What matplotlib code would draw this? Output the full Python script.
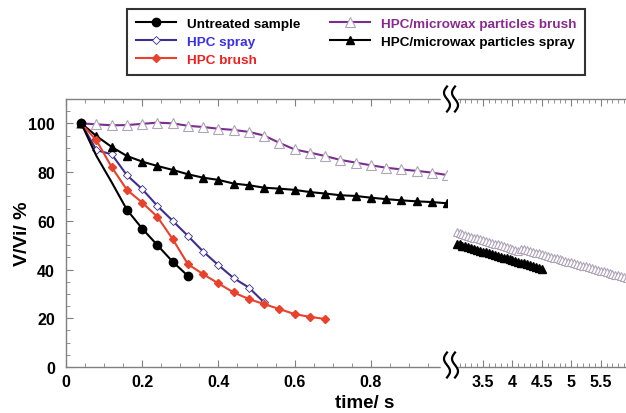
import numpy as np
import matplotlib
matplotlib.use('Agg')
import matplotlib.pyplot as plt
from matplotlib.lines import Line2D
from matplotlib.ticker import MultipleLocator, FuncFormatter

plt.rcParams['font.family'] = ['Liberation Sans', 'DejaVu Sans']
plt.rcParams['font.weight'] = 'bold'

# --- data ---
t_left = [0.04, 0.08, 0.12, 0.16, 0.20, 0.24, 0.28, 0.32, 0.36, 0.40, 0.44, 0.48, 0.52,
          0.56, 0.60, 0.64, 0.68, 0.72, 0.76, 0.80, 0.84, 0.88, 0.92, 0.96, 1.00]

untreated = [100, 86.6, 75.8, 64.5, 56.8, 50.0, 43.2, 37.4]
hpc_spray = [100, 89.0, 87.3, 78.7, 73.0, 66.1, 60.0, 53.8, 47.4, 41.8, 36.5, 32.6, 26.5]
hpc_brush = [100, 93.0, 82.0, 72.7, 67.5, 61.6, 52.5, 42.2, 38.1, 34.3, 30.6, 27.9, 25.8,
             23.8, 21.7, 20.6, 19.7]
wax_brush = [100, 99.6, 99.2, 99.3, 99.8, 100.3, 100.0, 99.0, 98.5, 97.8, 97.3, 96.5, 95.0,
             92.0, 89.3, 88.0, 86.6, 85.0, 83.9, 82.8, 81.8, 81.1, 80.5, 79.8, 78.8]
wax_spray = [100, 94.8, 90.3, 86.6, 84.3, 82.5, 80.9, 79.1, 77.7, 76.8, 75.3, 74.6, 73.6,
             73.2, 72.7, 71.8, 71.2, 70.5, 70.2, 69.5, 68.9, 68.4, 68.0, 67.7, 67.2]

# long-time part (right panel)
wax_brush_late = [55.3, 54.9, 54.6, 54.2, 53.9, 53.5, 53.1, 52.8, 52.4, 52.1, 51.7,
                  51.3, 51.0, 50.6, 50.3, 49.9, 49.5, 49.2, 48.8, 48.5, 48.1, 47.7,
                  48.6, 48.3, 47.9, 47.6, 47.3, 46.9, 46.6, 46.3, 45.9, 45.6,
                  45.3, 44.9, 44.6, 44.3, 43.9, 43.6, 43.3, 42.9, 42.6, 42.3,
                  41.9, 41.6, 41.3, 40.9, 40.6, 40.3, 39.9, 39.6, 39.3, 38.9,
                  38.6, 38.3, 37.9, 37.6, 37.3, 36.9, 36.6, 36.3, 35.9, 35.6]
wax_spray_late = [50.6, 50.3, 49.8, 49.6, 49.1, 48.8, 48.5, 48.1, 47.8, 47.4,
                  47.0, 46.7, 46.3, 46.0, 45.6, 45.3, 44.9, 44.6, 44.2, 43.9,
                  43.5, 43.2, 42.8, 42.5, 42.1, 41.8, 41.4, 41.1, 40.7, 40.4]
t_brush_late = np.round(3.05 + 0.05 * np.arange(len(wax_brush_late)), 2)
t_spray_late = np.round(3.05 + 0.05 * np.arange(len(wax_spray_late)), 2)

labels = ['Untreated sample', 'HPC spray', 'HPC brush',
          'HPC/microwax particles brush', 'HPC/microwax particles spray']
label_colors = ['black', '#3a2ee6', '#ee2020', '#8a2a90', 'black']

c_black = 'black'
c_spray = '#3d2f90'
c_red = '#e8412c'
c_purple = '#7b2d8e'
c_tri_edge = '#b0a4b8'
spine_c = '#808080'

fig = plt.figure(figsize=(6.26, 4.14), dpi=100)
W, H = 626.0, 414.0
ax1 = fig.add_axes([66 / W, (H - 368) / H, 381 / W, 268 / H])
ax2 = fig.add_axes([456 / W, (H - 368) / H, 180 / W, 268 / H])

h1, = ax1.plot(t_left[:len(untreated)], untreated, '-o', color=c_black, lw=1.5, ms=6,
               markevery=[0, 3, 4, 5, 6, 7], zorder=5)
h2, = ax1.plot(t_left[:len(hpc_spray)], hpc_spray, '-D', color=c_spray, lw=1.5, ms=4,
               mfc='white', mec=c_spray, mew=0.6, zorder=3)
h3, = ax1.plot(t_left[:len(hpc_brush)], hpc_brush, '-D', color=c_red, lw=1.5, ms=4,
               mfc=c_red, mec=c_red, zorder=4)
h4, = ax1.plot(t_left, wax_brush, '-^', color=c_purple, lw=1.5, ms=6.5,
               mfc='white', mec=c_tri_edge, mew=0.8, zorder=2)
h5, = ax1.plot(t_left, wax_spray, '-^', color=c_black, lw=1.5, ms=6, zorder=3)

ax2.plot(t_brush_late, wax_brush_late, '-^', color=c_purple, lw=1.0, ms=5.5,
         mfc='white', mec=c_tri_edge, mew=0.8, clip_on=False)
ax2.plot(t_spray_late, wax_spray_late, '-^', color=c_black, lw=1.0, ms=5.5, clip_on=False)

for ax in (ax1, ax2):
    ax.set_ylim(0, 110)
    for s in ax.spines.values():
        s.set_color(spine_c)
        s.set_linewidth(1.0)
    ax.tick_params(which='both', direction='in', color=spine_c, labelsize=11.5,
                   top=True)
    ax.tick_params(axis='x', pad=5)
    ax.tick_params(axis='y', pad=8)
    ax.tick_params(which='major', length=5)
    ax.tick_params(which='minor', length=3)
    ax.yaxis.set_major_locator(MultipleLocator(20))
    ax.yaxis.set_minor_locator(MultipleLocator(5))

ax1.set_xlim(0, 1.0)
ax1.xaxis.set_major_locator(MultipleLocator(0.2))
ax1.xaxis.set_minor_locator(MultipleLocator(0.05))
ax1.xaxis.set_major_formatter(FuncFormatter(lambda v, p: '%g' % v if v < 0.95 else ''))
ax1.spines['right'].set_visible(False)
ax1.tick_params(which='both', right=False)
ax1.set_ylabel('V/Vi/ %', fontsize=14, fontweight='bold')
ax1.yaxis.set_label_coords(-0.092, 0.5)

ax2.set_xlim(3.04, 6.1)
ax2.xaxis.set_major_locator(MultipleLocator(0.5))
ax2.xaxis.set_minor_locator(MultipleLocator(0.1))
ax2.xaxis.set_major_formatter(FuncFormatter(lambda v, p: '%g' % v))
ax2.spines['left'].set_visible(False)
ax2.tick_params(which='both', left=False, labelleft=False, right=True)

fig.text(365 / W, 1 - 404 / H, 'time/ s', ha='center', va='center',
         fontsize=13.5, fontweight='bold')

# axis break marks
def squiggle(xc, yc):
    tt = np.linspace(-1, 1, 60)
    xs = xc + 3.0 * np.sin(np.pi * tt)
    ys = yc + 12.5 * tt
    fig.add_artist(Line2D(xs / W, 1 - ys / H, color='black', lw=1.6,
                          transform=fig.transFigure, zorder=6))

for yc in (100, 366):
    fig.add_artist(plt.Rectangle((441 / W, 1 - (yc + 14) / H), 16 / W, 28 / H,
                                 transform=fig.transFigure, color='white', zorder=5))
    squiggle(447, yc)
    squiggle(455, yc)

leg = fig.legend([h1, h2, h3, h4, h5], labels, ncol=2, loc='upper left',
                 bbox_to_anchor=(127 / W, 1 - 10 / H), fontsize=9.7,
                 handlelength=3.0, columnspacing=2.2, labelspacing=0.4,
                 borderpad=0.65, frameon=True, fancybox=False, edgecolor='black',
                 borderaxespad=0)
leg.get_frame().set_linewidth(1.5)
for txt, col in zip(leg.get_texts(), label_colors):
    txt.set_color(col)
    txt.set_fontweight('bold')

fig.savefig('out.png', dpi=100)
